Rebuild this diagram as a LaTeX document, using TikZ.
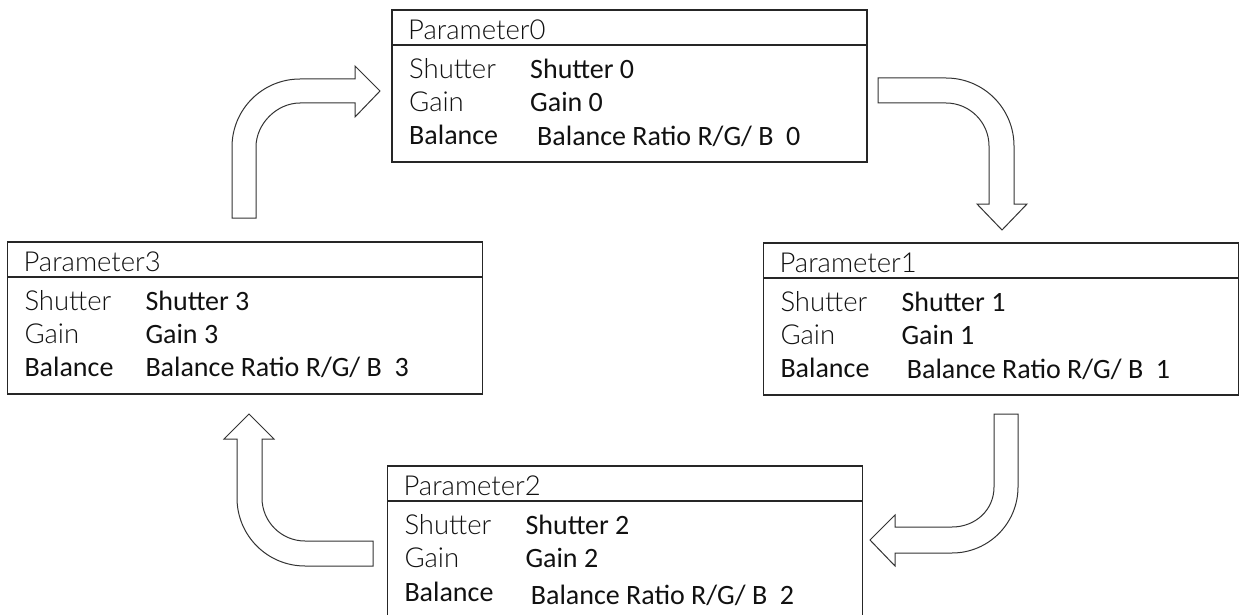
\documentclass[tikz,border=0pt]{standalone}
\usepackage{fontspec}
\setmainfont{Carlito}
\IfFontExistsTF{Lato Light}{\newfontfamily\lightf{Lato Light}}{\newfontfamily\lightf{Carlito}}
\definecolor{boxc}{HTML}{262626}
\definecolor{arrc}{HTML}{333333}
\definecolor{txt}{HTML}{111111}
\tikzset{
  pbox/.style={draw=boxc, line width=1.6pt, minimum width=475pt, minimum height=152pt, inner sep=0pt, outer sep=0pt},
  sepl/.style={draw=boxc, line width=1.6pt},
  lt/.style={anchor=base west, inner sep=0pt, text=txt, font=\lightf\fontsize{27.5}{31}\selectfont},
  rg/.style={anchor=base west, inner sep=0pt, text=txt, font=\fontsize{28}{32}\selectfont},
  blockarrow/.style={draw=arrc, line width=1pt, fill=white, line join=miter}
}
\newcommand{\parambox}[6]{%
  \node[pbox, anchor=north west] (#1) at (#2,#3) {};
  \draw[sepl] ([yshift=-35pt]#1.north west) -- ([yshift=-35pt]#1.north east);
  \node[lt] (#1t) at ([xshift=16pt,yshift=-29.3pt]#1.north west) {Parameter#4};
  \node[lt] (#1s) at ([xshift=17pt,yshift=-68.7pt]#1.north west) {Shutter};
  \node[lt] (#1g) at ([xshift=17pt,yshift=-101.3pt]#1.north west) {Gain};
  \node[rg] (#1b) at ([xshift=17pt,yshift=-135pt]#1.north west) {Balance};
  \node[rg] (#1sv) at ([xshift=138pt,yshift=-68.7pt]#1.north west) {Shutter #4};
  \node[rg] (#1gv) at ([xshift=138pt,yshift=-101.3pt]#1.north west) {Gain #4};
  \node[rg] (#1bv) at ([xshift=#5pt,yshift=-#6pt]#1.north west) {Balance Ratio R/G/ B~~#4};
}
\begin{document}
\begin{tikzpicture}[x=1pt,y=-1pt]
\useasboundingbox[fill=white] (0,0) rectangle (1239,615);

% boxes
\parambox{pzero}{392}{10}{0}{145}{136}
\parambox{pone}{763.3}{242.7}{1}{143.4}{135.6}
\parambox{ptwo}{387.3}{466}{2}{143.4}{138.3}
\parambox{pthree}{7.3}{241.7}{3}{138}{135}

% arrow A: Parameter3 -> Parameter0
\draw[blockarrow] (232,218) -- (232,147)
  .. controls (232,109.4) and (262.4,79) .. (300,79)
  -- (355,79) -- (355,66) -- (380,91) -- (355,117) -- (355,103) -- (300,103)
  .. controls (276.8,103) and (256,123.8) .. (256,147)
  -- (256,218) -- cycle;

% arrow B: Parameter0 -> Parameter1
\draw[blockarrow] (878,78) -- (946,78)
  .. controls (983.6,78) and (1014,108.4) .. (1014,146)
  -- (1014,204) -- (1027,204) -- (1002,230) -- (977,204) -- (989,204) -- (989,146)
  .. controls (989,122.3) and (969.7,103) .. (946,103)
  -- (878,103) -- cycle;

% arrow C: Parameter1 -> Parameter2
\draw[blockarrow] (994,414) -- (1018,414) -- (1018,487)
  .. controls (1018,523.5) and (988.5,553) .. (952,553)
  -- (895,553) -- (895,566) -- (870,540) -- (895,515) -- (895,527) -- (952,527)
  .. controls (975.2,527) and (994,510.2) .. (994,487)
  -- cycle;

% arrow D: Parameter2 -> Parameter3
\draw[blockarrow] (373,566) -- (305,566)
  .. controls (267.4,566) and (237,535.6) .. (237,498)
  -- (237,439) -- (224,439) -- (249,414) -- (274,439) -- (262,439) -- (262,498)
  .. controls (262,521.7) and (281.3,541) .. (305,541)
  -- (373,541) -- cycle;
\end{tikzpicture}
\end{document}
